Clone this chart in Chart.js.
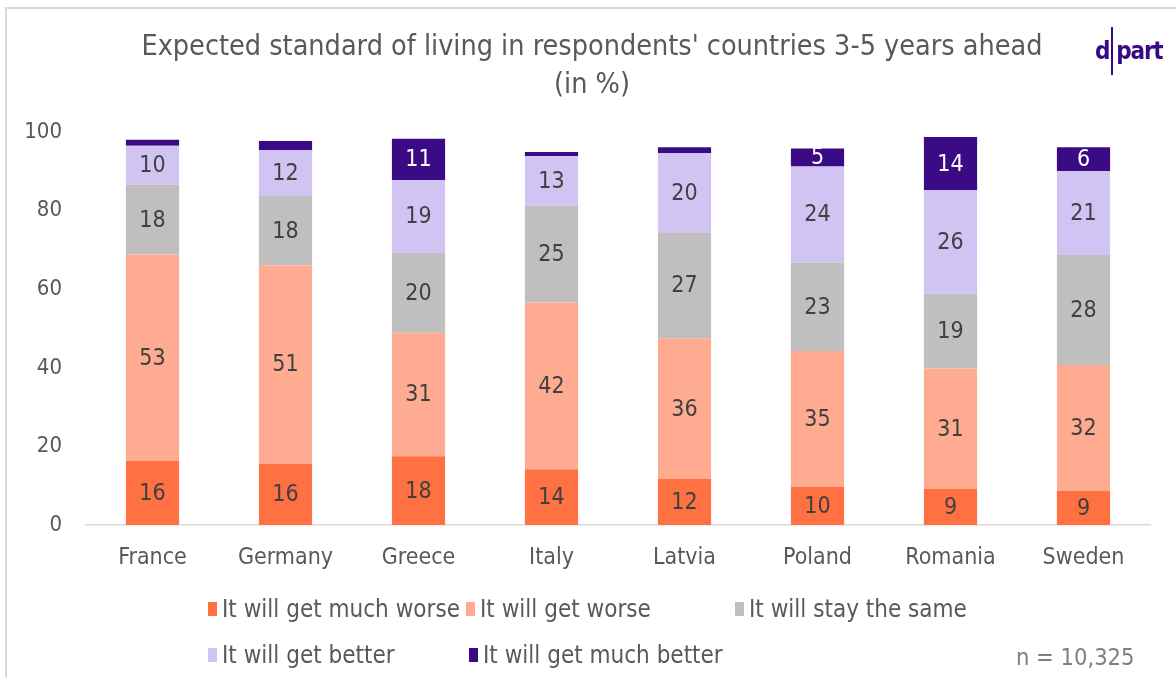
<!DOCTYPE html>
<html>
<head>
<meta charset="utf-8">
<script src="https://cdn.jsdelivr.net/npm/chart.js@4.4.1/dist/chart.umd.min.js"></script>
<style>
  html, body { margin: 0; padding: 0; background: #fff; }
  #wrap { position: relative; width: 1176px; height: 678px; overflow: hidden; background: #fff;
          font-family: 'DejaVu Sans Condensed', 'DejaVu Sans', sans-serif; }
  #frame { position: absolute; left: 5px; top: 7px; width: 1300px; height: 800px; border: 2px solid #d9d9d9; box-sizing: border-box; }
  #c { position: absolute; left: 0; top: 0; }
  #legend { position: absolute; left: 0; top: 0; width: 1176px; height: 678px; pointer-events: none; }
  .li { position: absolute; display: flex; align-items: center; font-size: 24px; color: #595959; white-space: nowrap; height: 26px; }
  .sw { width: 9px; height: 14px; margin-right: 5px; }
  #logo { position: absolute; left: 1095px; top: 27px; height: 48px; color: #3a0a85; font-size: 24px; font-weight: bold; display: flex; align-items: center; letter-spacing: -1.2px; }
  #logo .bar { width: 2px; height: 48px; background: #3a0a85; margin: 0 3px 0 2px; }
  #n { position: absolute; left: 1016px; top: 643px; font-size: 23.5px; color: #7f7f7f; white-space: nowrap; }
</style>
</head>
<body>
<div id="wrap">
  <div id="frame"></div>
  <canvas id="c" width="1176" height="678"></canvas>
  <div id="legend"></div>
  <div id="logo"><span>d</span><span class="bar"></span><span>part</span></div>
  <div id="n">n = 10,325</div>
</div>
<script>
const countries = ['France', 'Germany', 'Greece', 'Italy', 'Latvia', 'Poland', 'Romania', 'Sweden'];
const seriesNames = ['It will get much worse', 'It will get worse', 'It will stay the same', 'It will get better', 'It will get much better'];
const muchWorse  = [16.3, 15.6, 17.5, 14.2, 11.7, 9.7, 9.2, 8.7];
const worse      = [52.5, 50.5, 31.4, 42.4, 35.8, 34.6, 30.6, 32.0];
const same       = [17.8, 17.6, 20.3, 24.6, 27.0, 22.5, 19.1, 28.0];
const better     = [9.9, 11.7, 18.6, 12.7, 20.1, 24.4, 26.3, 21.4];
const muchBetter = [1.5, 2.3, 10.5, 1.0, 1.5, 4.6, 13.5, 6.0];
const yTicks = [0, 20, 40, 60, 80, 100];
const titleLines = ["Expected standard of living in respondents' countries 3-5 years ahead", '(in %)'];

const colors = ['#ff7043', '#ffab91', '#bfbfbf', '#d1c4f2', '#3b0a85'];
const labelColors = ['#404040', '#404040', '#404040', '#404040', '#ffffff'];
const FONT = "'DejaVu Sans Condensed', 'DejaVu Sans', sans-serif";
const allSeries = [muchWorse, worse, same, better, muchBetter];

const datasets = allSeries.map((d, i) => ({
  label: seriesNames[i],
  data: d,
  backgroundColor: colors[i],
  borderWidth: 0,
  categoryPercentage: 1.0,
  barPercentage: 0.4
}));

const valueLabels = {
  id: 'valueLabels',
  afterLayout(chart) {
    const t = chart.titleBlock;
    if (t) { t.left += 17; t.right += 17; }
  },
  afterDatasetsDraw(chart) {
    const ctx = chart.ctx;
    ctx.save();
    ctx.font = '23px ' + FONT;
    ctx.textAlign = 'center';
    ctx.textBaseline = 'middle';
    chart.data.datasets.forEach((ds, di) => {
      const meta = chart.getDatasetMeta(di);
      meta.data.forEach((bar, i) => {
        const v = ds.data[i];
        if (v < 4) return;
        ctx.fillStyle = labelColors[di];
        ctx.fillText(String(Math.round(v)), bar.x, (bar.y + bar.base) / 2 + 1);
      });
    });
    ctx.restore();
  }
};

new Chart(document.getElementById('c'), {
  type: 'bar',
  data: { labels: countries, datasets },
  options: {
    responsive: false,
    animation: false,
    layout: { padding: { left: 0, right: 26, top: 13, bottom: 103 } },
    plugins: {
      legend: { display: false },
      tooltip: { enabled: false },
      title: {
        display: true,
        text: titleLines,
        color: '#595959',
        font: { family: FONT, size: 28.5, weight: 'normal', lineHeight: 1.333 },
        padding: { top: 16, bottom: 27 }
      }
    },
    scales: {
      x: {
        stacked: true,
        grid: { display: false, drawTicks: false },
        border: { display: true, color: '#d9d9d9', width: 1.5 },
        ticks: { color: '#595959', font: { family: FONT, size: 23 }, padding: 19 },
        afterFit(s) { s.height = 50; }
      },
      y: {
        stacked: true,
        min: 0, max: 100,
        afterBuildTicks(s) { s.ticks = yTicks.map(v => ({ value: v })); },
        grid: { display: false, drawTicks: false },
        border: { display: false },
        ticks: { color: '#595959', font: { family: FONT, size: 22 }, padding: 24 },
        afterFit(s) { s.width = 86; }
      }
    }
  },
  plugins: [valueLabels]
});

// HTML legend built from the series names
const legendPos = [[208, 609], [466, 609], [735, 609], [208, 655], [469, 655]];
const lg = document.getElementById('legend');
seriesNames.forEach((name, i) => {
  const d = document.createElement('div');
  d.className = 'li';
  d.style.left = legendPos[i][0] + 'px';
  d.style.top = (legendPos[i][1] - 13) + 'px';
  d.innerHTML = '<span class="sw" style="background:' + colors[i] + '"></span><span>' + name + '</span>';
  lg.appendChild(d);
});
</script>
</body>
</html>
